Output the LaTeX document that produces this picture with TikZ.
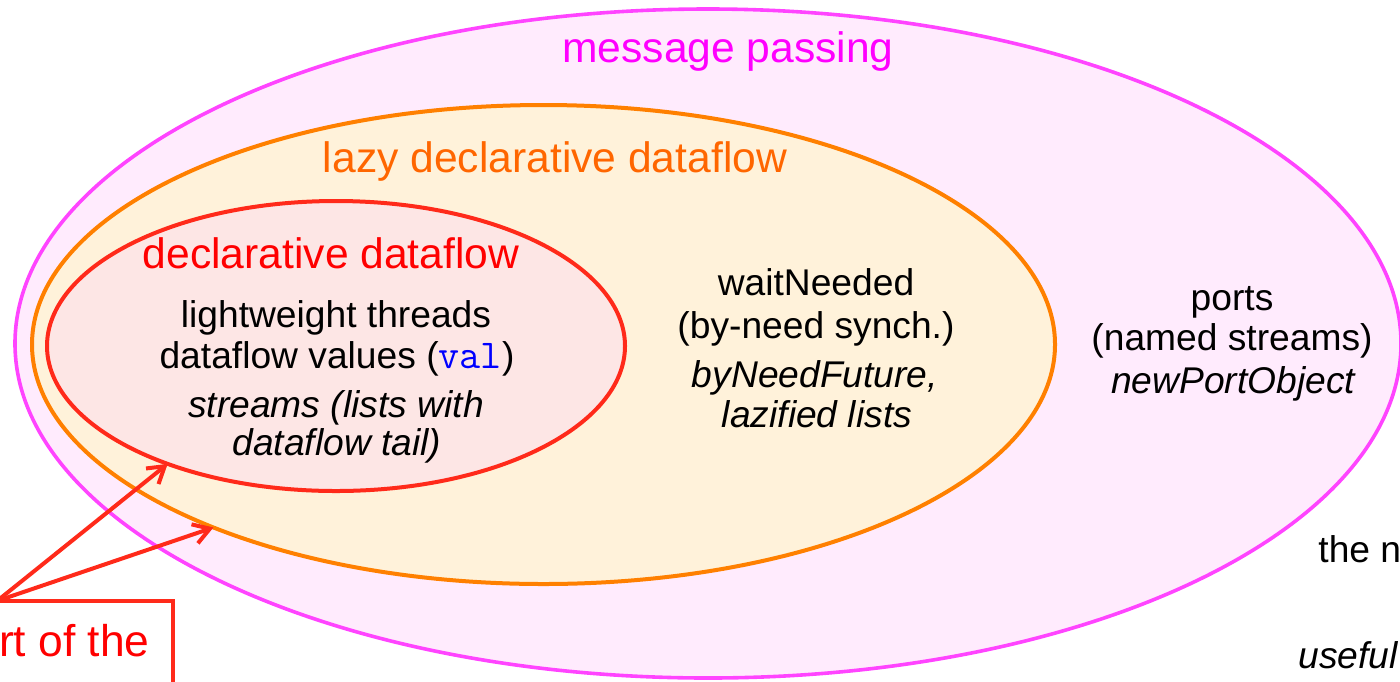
\documentclass[tikz,border=0pt]{standalone}
\usepackage{fontspec}
\setmainfont{Liberation Sans}
\usetikzlibrary{shapes.geometric,arrows.meta}
\definecolor{pinkline}{HTML}{FF44FF}
\definecolor{pinkfill}{HTML}{FFEBFD}
\definecolor{orline}{HTML}{FF8000}
\definecolor{orfill}{HTML}{FFF2DA}
\definecolor{ortext}{HTML}{FF6600}
\definecolor{redline}{HTML}{FF2A1A}
\definecolor{redfill}{HTML}{FDE6E5}
\definecolor{magtext}{HTML}{FF00FF}
\definecolor{titlered}{HTML}{FF0000}
\definecolor{valblue}{HTML}{0000FF}
\begin{document}
\begin{tikzpicture}[x=0.5pt,y=-0.5pt,
  blob/.style={ellipse, inner sep=0pt, outer sep=0pt},
  title/.style={anchor=base, inner sep=0pt, font=\fontsize{21.3}{25}\selectfont},
  body/.style={anchor=base, inner sep=0pt, text=black, font=\fontsize{18.6}{22}\selectfont},
  bodyit/.style={anchor=base, inner sep=0pt, text=black, font=\fontsize{18.6}{22}\selectfont\itshape},
  pointer/.style={draw=redline, line width=2pt, -{Straight Barb[length=8pt,width=10pt]}}]
\useasboundingbox (0,0) rectangle (1400,681);
% nested ellipses
\node[blob, draw=pinkline, fill=pinkfill, line width=1.8pt,
      minimum width=693pt, minimum height=334.5pt] (mp) at (708,343.5) {};
\node[blob, draw=orline, fill=orfill, line width=2pt,
      minimum width=511.5pt, minimum height=239.5pt] (ld) at (543.5,344.5) {};
\node[blob, draw=redline, fill=redfill, line width=2pt,
      minimum width=289pt, minimum height=145pt] (dd) at (336,346) {};
% titles
\node[title, text=magtext] (mpt) at (728,62) {message passing};
\node[title, text=ortext] (ldt) at (555,172) {lazy declarative dataflow};
\node[title, text=titlered] (ddt) at (331,268) {declarative dataflow};
% declarative dataflow contents
\node[body] (l1) at (336,327) {lightweight threads};
\node[body] (l2) at (337,368) {dataflow values ({\fontsize{20.5}{22}\ttfamily\color{valblue}val})};
\node[bodyit] (l3) at (336,417) {streams (lists with};
\node[bodyit] (l4) at (337,455) {dataflow tail)};
% lazy contents
\node[body] (w1) at (816,295) {waitNeeded};
\node[body] (w2) at (816,338) {(by-need synch.)};
\node[bodyit] (w3) at (815,387) {byNeedFuture,};
\node[bodyit] (w4) at (817,427) {lazified lists};
% message passing contents
\node[body] (p1) at (1232,310) {ports};
\node[body] (p2) at (1232,350) {(named streams)};
\node[bodyit] (p3) at (1233,393) {newPortObject};
% cut-off texts on the right
\node[body, anchor=base west] (tn) at (1318,562) {the n};
\node[bodyit, anchor=base west] (us) at (1298,668) {useful};
% red box, bottom left
\node[draw=redline, line width=2pt, outer sep=0pt, inner sep=0pt,
      minimum width=88pt, minimum height=60pt, anchor=north west] (box) at (-3,601) {};
\node[title, text=titlered, anchor=base east, font=\fontsize{22.2}{26}\selectfont] (bt) at (150,656) {rt of the};
% pointers
\draw[pointer] (box.north west) -- (dd.215.4);
\draw[pointer] (box.north west) -- (ld.209);
\end{tikzpicture}
\end{document}
